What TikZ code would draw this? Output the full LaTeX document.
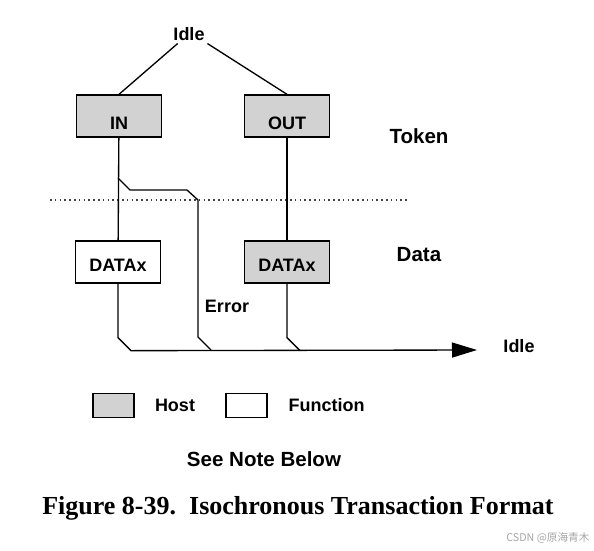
\documentclass[tikz,border=0pt]{standalone}
\usepackage{fontspec}
\setmainfont{Liberation Sans}
\newfontfamily\capfont{Liberation Serif}
\newfontfamily\cjkfont{Noto Sans CJK SC}
\usepackage{tikz}
\usetikzlibrary{arrows.meta}

\begin{document}
\begin{tikzpicture}[
  x=0.75pt, y=-0.75pt,
  pkt/.style={rectangle, draw, line width=1pt, minimum width=63.75pt,
    minimum height=31.5pt, inner sep=0pt, text depth=0pt,
    font=\fontsize{13.5}{16}\selectfont\bfseries},
  tok/.style={pkt, text height=20pt},
  dat/.style={pkt, text height=14.2pt},
  hostfill/.style={fill=gray!35},
  lbl/.style={inner sep=0pt, font=\fontsize{13.5}{16}\selectfont\bfseries},
  big/.style={inner sep=0pt, font=\fontsize{15.4}{18}\selectfont\bfseries},
  key/.style={rectangle, draw, line width=1pt, minimum width=30.75pt,
    minimum height=18pt, inner sep=0pt},
  wire/.style={line width=1pt},
  arr/.style={wire, -{Triangle[length=18.75pt, width=11.25pt]}},
  sep/.style={line width=1pt, draw=black!75, dash pattern=on 1.2pt off 2.4pt}
]
\useasboundingbox (0,0) rectangle (594,551);

% token phase
\node[lbl, inner sep=2pt] (idle) at (189,34) {Idle};
\node[tok, hostfill] (in) at (119,116) {IN};
\node[tok, hostfill] (out) at (287,116) {OUT};
\node[big] (token) at (419,136) {Token};

\draw[wire] (idle.220) -- (in.north);
\draw[wire] (idle.south east) -- (out.north);

\draw[sep] (50,200) -- (408,200);

% data phase
\node[dat, fill=white] (din) at (118,262) {DATAx};
\node[dat, hostfill] (dout) at (287,262) {DATAx};
\node[big] (data) at (419,255) {Data};
\node[lbl] (err) at (227,306) {Error};
\node[lbl] (idleR) at (519,346) {Idle};

\coordinate (tap) at (118,178);
\coordinate (busend) at (477,350);

\draw[wire] (in) -- (din);
\draw[wire] (out) -- (dout);
\draw[wire] (tap) -- ++(12,12) -- ++(57,0) -- ++(11,10) -- ++(0,137)
  -- ++(13,13);
\draw[arr] (din.south) -- ++(0,54) -- ++(13,13) -- (busend);
\draw[wire] (dout.south) -- ++(0,54) -- ++(13,13);

% legend
\node[key, hostfill] (khost) at (113.5,405.5) {};
\node[lbl] (thost) at (175,405) {Host};
\node[key, fill=white] (kfunc) at (246.5,405.5) {};
\node[lbl] (tfunc) at (326.5,405) {Function};
\node[big] (note) at (264,459) {See Note Below};

\node[inner sep=0pt, anchor=base, font=\fontsize{19.5}{23}\selectfont\capfont\bfseries]
  (cap) at (298,514) {Figure 8-39.\ \ Isochronous Transaction Format};
\node[inner sep=0pt, text=black!35, font=\fontsize{8}{10}\selectfont\cjkfont]
  (mark) at (548,538) {CSDN @原海青木};
\end{tikzpicture}
\end{document}
